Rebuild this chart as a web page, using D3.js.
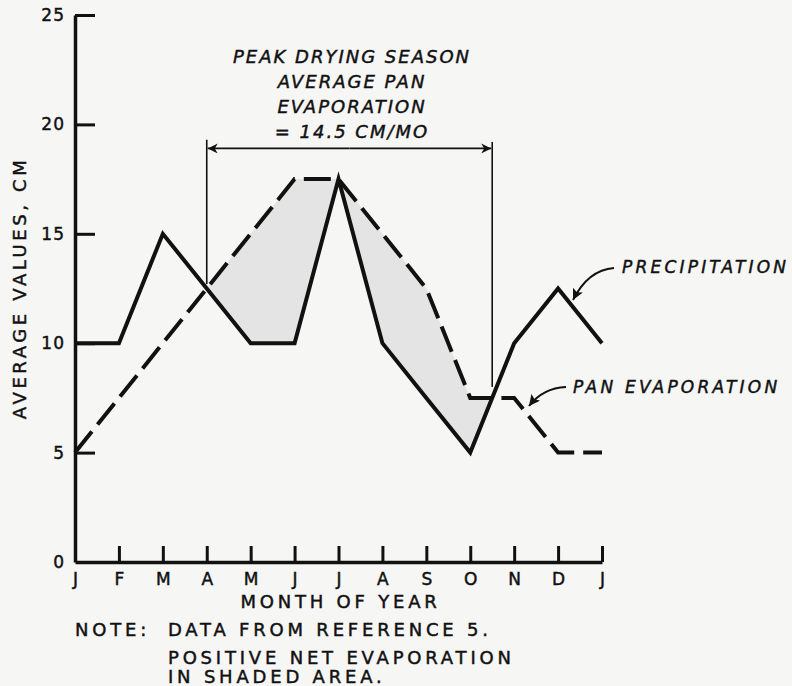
<!DOCTYPE html>
<html>
<head>
<meta charset="utf-8">
<script src="https://cdn.jsdelivr.net/npm/d3@7"></script>
<style>
  html, body { margin: 0; padding: 0; background: #f6f6f5; }
  svg { display: block; }
  text { font-family: "DejaVu Sans", "Liberation Sans", sans-serif; fill: #111; stroke: #111; stroke-width: 0.45px; }
</style>
</head>
<body>
<svg id="chart" width="792" height="686"></svg>
<script>
// ---- data ----
const months = ["J","F","M","A","M","J","J","A","S","O","N","D","J"];
const precipitation = [10, 10, 15, 12.5, 10, 10, 17.5, 10, 7.5, 5, 10, 12.5, 10];
const panEvaporation = [5, 7.5, 10, 12.5, 15, 17.5, 17.5, 15, 12.5, 7.5, 7.5, 5, 5];
const yTicks = [0, 5, 10, 15, 20, 25];
const annotationLines = ["PEAK DRYING SEASON", "AVERAGE PAN", "EVAPORATION", "= 14.5 CM/MO"];
const noteLines = ["DATA FROM REFERENCE 5.", "POSITIVE NET EVAPORATION", "IN SHADED AREA."];

const svg = d3.select("#chart");
const x = d3.scaleLinear().domain([0, 12]).range([75, 602]);
const y = d3.scaleLinear().domain([0, 25]).range([562, 15]);

// ---- shaded area (evaporation > precipitation) ----
const pts = [];
for (let i = 0; i < months.length; i++) {
  pts.push({ t: i, p: precipitation[i], e: panEvaporation[i] });
  if (i < months.length - 1) {
    const d0 = panEvaporation[i] - precipitation[i];
    const d1 = panEvaporation[i + 1] - precipitation[i + 1];
    if (d0 * d1 < 0) {
      const f = d0 / (d0 - d1);
      const p = precipitation[i] + f * (precipitation[i + 1] - precipitation[i]);
      pts.push({ t: i + f, p: p, e: p });
    }
  }
}
const shade = d3.area()
  .x(d => x(d.t))
  .y0(d => y(d.p))
  .y1(d => y(Math.max(d.e, d.p)));
svg.append("path").datum(pts)
  .attr("d", shade)
  .attr("fill", "#e4e4e4")
  .attr("stroke", "none");

// ---- axes ----
const yAxis = d3.axisLeft(y).tickValues(yTicks).tickSizeInner(-20).tickSizeOuter(0).tickPadding(10)
  .tickFormat(d3.format("d"));
const gy = svg.append("g").attr("transform", `translate(${x(0)},0)`).call(yAxis);
const xAxis = d3.axisBottom(x).tickValues(d3.range(months.length)).tickSizeInner(-16).tickSizeOuter(0).tickPadding(11)
  .tickFormat(i => months[i]);
const gx = svg.append("g").attr("transform", `translate(0,${y(0)})`).call(xAxis);
[gx, gy].forEach(g => {
  g.select(".domain").attr("stroke", "#111").attr("stroke-width", 3.5);
  g.selectAll(".tick line").attr("stroke", "#111").attr("stroke-width", 3);
  g.selectAll(".tick text").attr("font-size", 17).attr("font-family", "DejaVu Sans").attr("fill", "#111");
});
gy.selectAll(".tick text").attr("letter-spacing", 1);
gy.selectAll(".tick").filter(d => d === 0).select("line").remove();
gx.selectAll(".tick").filter(d => d === 0).select("line").remove();

// ---- lines ----
const line = d3.line().x((d, i) => x(i)).y(d => y(d));
svg.append("path").datum(panEvaporation)
  .attr("d", line).attr("fill", "none")
  .attr("stroke", "#111").attr("stroke-width", 4)
  .attr("stroke-dasharray", "27,9").attr("stroke-linejoin", "miter");
svg.append("path").datum(precipitation)
  .attr("d", line).attr("fill", "none")
  .attr("stroke", "#111").attr("stroke-width", 4).attr("stroke-linejoin", "miter");

// ---- arrow markers ----
const defs = svg.append("defs");
defs.append("marker").attr("id", "ah").attr("viewBox", "0 0 10 10")
  .attr("refX", 10).attr("refY", 5).attr("markerUnits", "userSpaceOnUse")
  .attr("markerWidth", 20).attr("markerHeight", 10).attr("orient", "auto")
  .append("path").attr("d", "M0,0 L10,5 L0,10 L3,5 Z").attr("fill", "#111");
defs.append("marker").attr("id", "ah2").attr("viewBox", "0 0 10 10")
  .attr("refX", 10).attr("refY", 5).attr("markerUnits", "userSpaceOnUse")
  .attr("markerWidth", 15).attr("markerHeight", 11).attr("orient", "auto")
  .append("path").attr("d", "M0,0 L10,5 L0,10 L2,5 Z").attr("fill", "#111");

// ---- peak drying season bracket ----
const bL = 3, bR = 9.5;
svg.append("line").attr("x1", x(bL)).attr("x2", x(bL)).attr("y1", y(19.3)).attr("y2", y(12.7))
  .attr("stroke", "#111").attr("stroke-width", 1.6);
svg.append("line").attr("x1", x(bR)).attr("x2", x(bR)).attr("y1", y(19.2)).attr("y2", y(8.0))
  .attr("stroke", "#111").attr("stroke-width", 1.6);
const ay = y(18.9);
const mid = (x(bL) + x(bR)) / 2;
svg.append("line").attr("x1", mid).attr("x2", x(bL) + 1).attr("y1", ay).attr("y2", ay)
  .attr("stroke", "#111").attr("stroke-width", 1.8).attr("marker-end", "url(#ah)");
svg.append("line").attr("x1", mid).attr("x2", x(bR) - 1).attr("y1", ay).attr("y2", ay)
  .attr("stroke", "#111").attr("stroke-width", 1.8).attr("marker-end", "url(#ah)");

const ann = svg.append("g");
annotationLines.forEach((s, i) => {
  ann.append("text").attr("x", 352).attr("y", 63 + i * 25)
    .attr("text-anchor", "middle").attr("font-size", 18).attr("font-style", "italic")
    .attr("letter-spacing", 2).text(s);
});

// ---- series labels with leaders ----
svg.append("text").attr("x", 622).attr("y", 273).attr("font-size", 17).attr("font-style", "italic")
  .attr("letter-spacing", 3.2).text("PRECIPITATION");
svg.append("path").attr("d", "M614,268 Q588,270 573,300").attr("fill", "none")
  .attr("stroke", "#111").attr("stroke-width", 2).attr("marker-end", "url(#ah2)");
svg.append("text").attr("x", 573).attr("y", 393).attr("font-size", 17).attr("font-style", "italic")
  .attr("letter-spacing", 3.2).text("PAN EVAPORATION");
svg.append("path").attr("d", "M566,387 Q543,388 529,406").attr("fill", "none")
  .attr("stroke", "#111").attr("stroke-width", 2).attr("marker-end", "url(#ah2)");

// ---- axis titles and note ----
svg.append("text").attr("transform", "translate(26,288) rotate(-90)")
  .attr("text-anchor", "middle").attr("font-size", 18).attr("letter-spacing", 3.6)
  .text("AVERAGE VALUES, CM");
svg.append("text").attr("x", (x(0) + x(12)) / 2 + 2).attr("y", 608)
  .attr("text-anchor", "middle").attr("font-size", 18).attr("letter-spacing", 3.8)
  .text("MONTH OF YEAR");
svg.append("text").attr("x", 75).attr("y", 636).attr("font-size", 18).attr("letter-spacing", 3.8).text("NOTE:");
noteLines.forEach((s, i) => {
  svg.append("text").attr("x", 168).attr("y", [636, 664, 683][i])
    .attr("font-size", 18).attr("letter-spacing", 3.8).text(s);
});
</script>
</body>
</html>
